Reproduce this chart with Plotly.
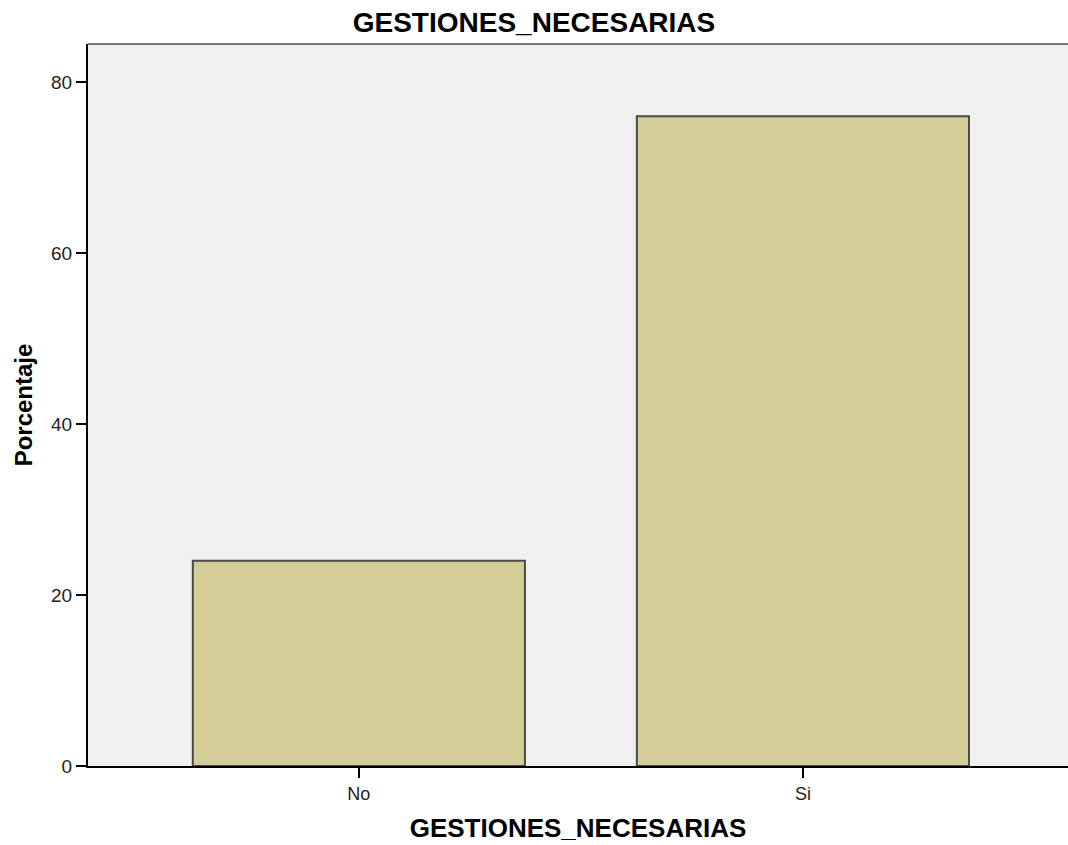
import plotly.graph_objects as go

categories = ["No", "Si"]
percentages = [24.0, 76.0]
y_ticks = [0, 20, 40, 60, 80]

FONT = "Liberation Sans, Arial, sans-serif"

fig = go.Figure(
    go.Bar(
        x=categories,
        y=percentages,
        marker=dict(color="#D3CE97", line=dict(color="#4a4a4a", width=2)),
        width=0.748,
        hoverinfo="skip",
    )
)

fig.update_layout(
    width=1068,
    height=845,
    margin=dict(l=88, r=0, t=44, b=79),
    paper_bgcolor="white",
    plot_bgcolor="#F0F0F0",
    showlegend=False,
    title=dict(
        text="<b>GESTIONES_NECESARIAS</b>",
        x=0.5,
        xanchor="center",
        y=1 - 22.5 / 845,
        yanchor="middle",
        font=dict(family=FONT, size=28, color="#000000"),
    ),
    xaxis=dict(
        range=[-0.61, 1.597],
        showgrid=False,
        zeroline=False,
        showline=True,
        linecolor="#000000",
        linewidth=2,
        ticks="outside",
        ticklen=10,
        tickwidth=2,
        tickcolor="#000000",
        tickfont=dict(family=FONT, size=18, color="#222222"),
        title=dict(
            text="<b>GESTIONES_NECESARIAS</b>",
            font=dict(family=FONT, size=26, color="#000000"),
            standoff=16,
        ),
    ),
    yaxis=dict(
        range=[0, 84.44],
        tickvals=y_ticks,
        showgrid=False,
        zeroline=False,
        showline=True,
        linecolor="#000000",
        linewidth=2,
        ticks="outside",
        ticklen=10,
        tickwidth=2,
        tickcolor="#000000",
        tickfont=dict(family=FONT, size=19, color="#222222"),
        title=dict(
            text="<b>Porcentaje</b>",
            font=dict(family=FONT, size=24, color="#000000"),
            standoff=12,
        ),
    ),
    shapes=[
        dict(
            type="line",
            xref="paper",
            yref="paper",
            x0=0,
            x1=1,
            y0=1,
            y1=1,
            line=dict(color="#7a7a7a", width=2),
        )
    ],
)

fig.write_html(
    "out.html",
    config={"displayModeBar": False},
    post_script="document.body.style.margin='0';document.body.style.overflow='hidden';",
)
